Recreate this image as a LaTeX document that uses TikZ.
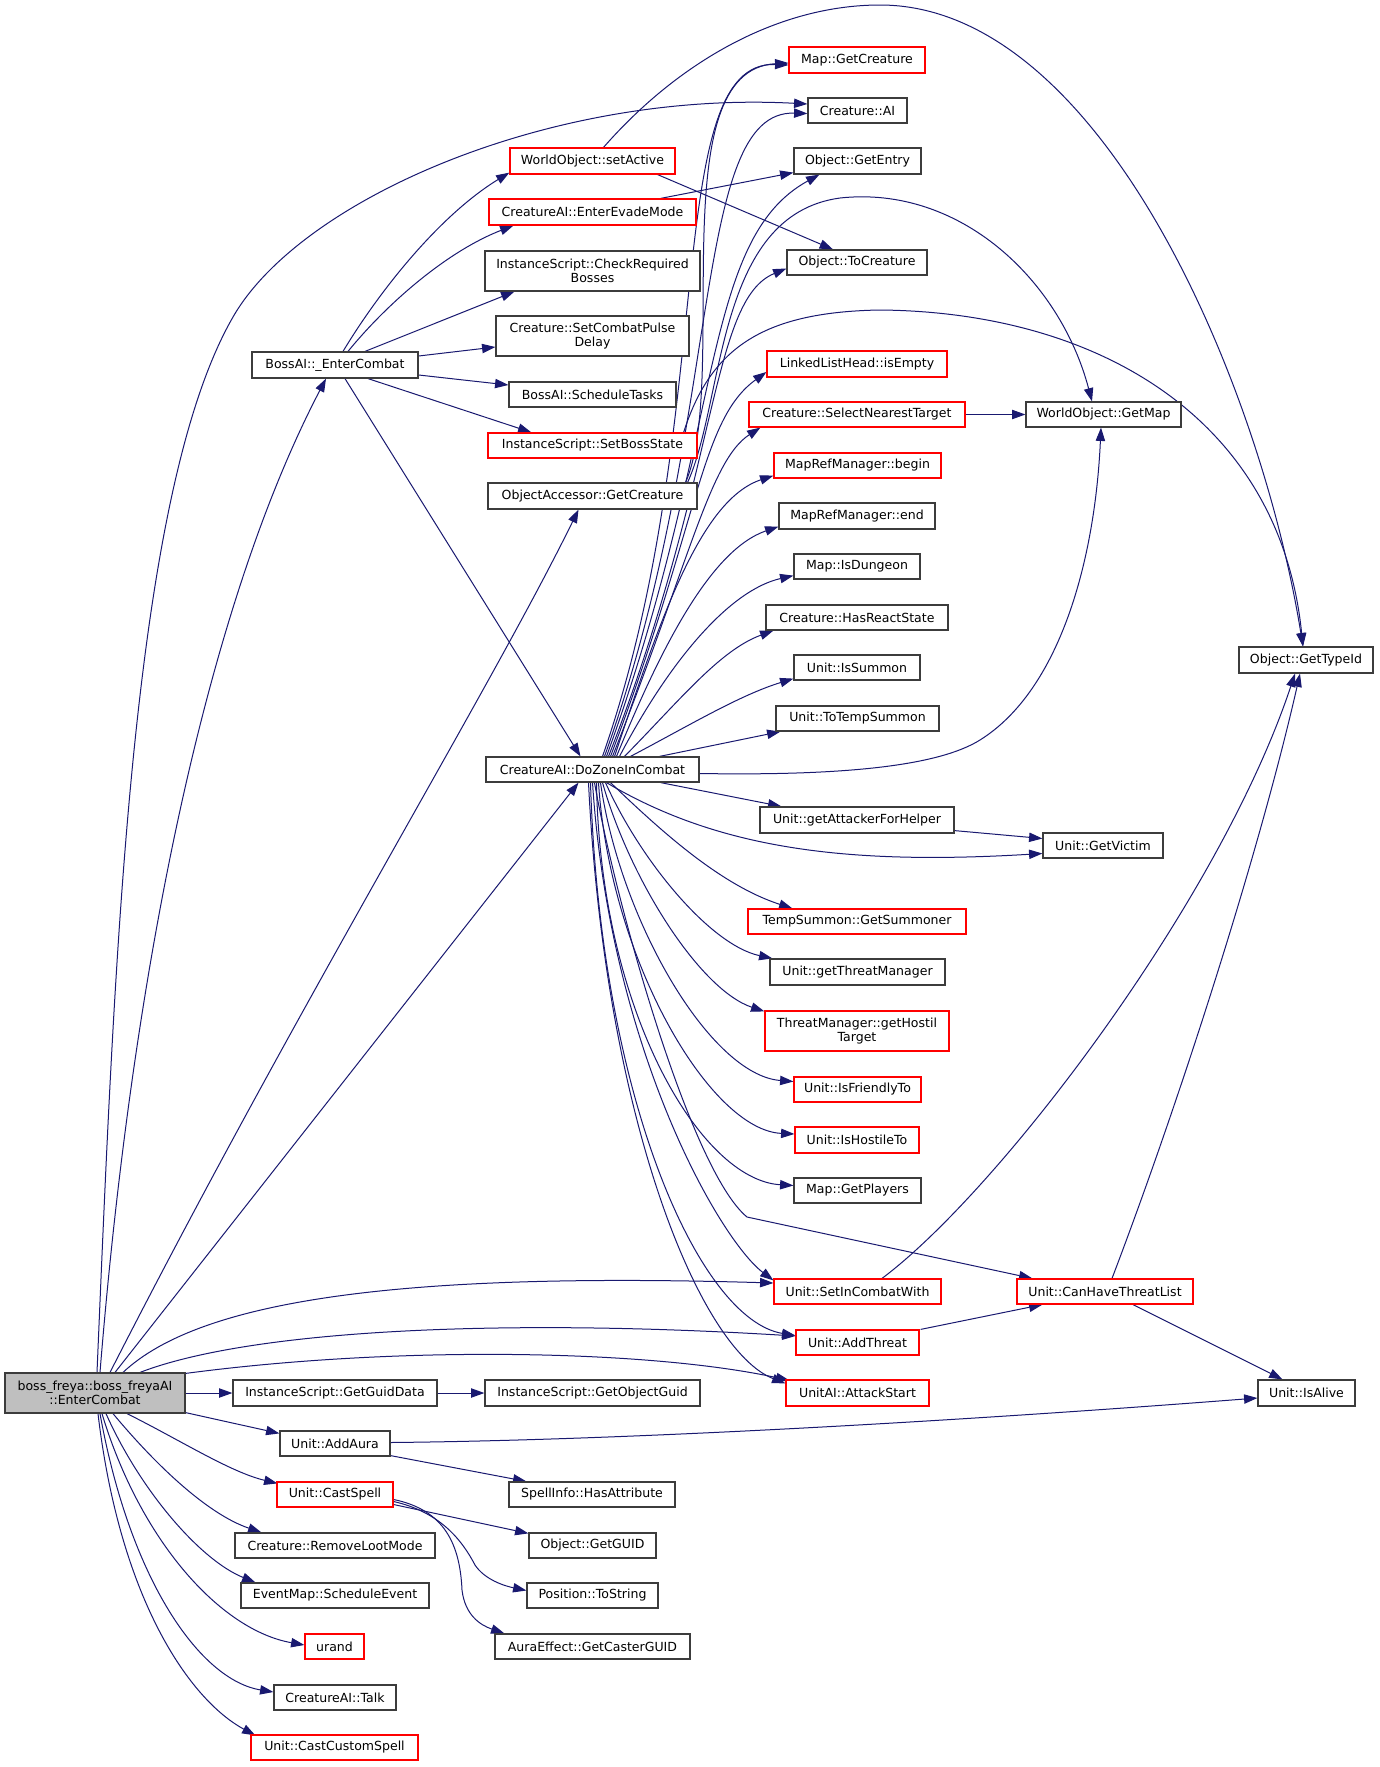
\documentclass[tikz,border=0pt]{standalone}
\usepackage{fontspec}
\newfontfamily\dejavu{DejaVu Sans}
\usetikzlibrary{arrows.meta,calc}
\definecolor{edgeblue}{RGB}{25,25,112}
\definecolor{boxgray}{RGB}{191,191,191}
\definecolor{bordergray}{RGB}{60,60,60}
\definecolor{boxred}{RGB}{255,0,0}
\pgfdeclarelayer{bg}
\pgfsetlayers{bg,main}
\begin{document}
\begin{tikzpicture}[x=0.75pt,y=-0.75pt,
  fn/.style={draw=bordergray, line width=0.9pt, fill=white, inner sep=0pt, align=center,
    font=\dejavu\fontsize{9.4}{10.9}\selectfont},
  rd/.style={fn, draw=boxred},
  sz/.style 2 args={minimum width=#1*0.75pt, minimum height=#2*0.75pt},
  cl/.style={draw=edgeblue, line width=0.75pt, -{Triangle[length=10pt,width=7pt]}, fill=none},
]
\useasboundingbox (0,0) rectangle (1379,1767);
% column 0/1
\node[fn, fill=boxgray, sz={180}{40}] (root) at (95,1393) {boss\_freya::boss\_freyaAI\\::EnterCombat};
\node[fn, sz={166}{26}] (bec) at (335,365) {BossAI::\_EnterCombat};
\node[fn, sz={204}{26}] (igd) at (335,1393) {InstanceScript::GetGuidData};
\node[fn, sz={110}{25}] (uaa) at (335,1443.5) {Unit::AddAura};
\node[rd, sz={116}{25}] (ucs) at (335,1494.5) {Unit::CastSpell};
\node[fn, sz={200}{25}] (crl) at (335,1545.5) {Creature::RemoveLootMode};
\node[fn, sz={188}{25}] (ese) at (335,1595.5) {EventMap::ScheduleEvent};
\node[rd, sz={59}{25}] (urd) at (334.5,1646.5) {urand};
\node[fn, sz={122}{25}] (tlk) at (335,1697.5) {CreatureAI::Talk};
\node[rd, sz={167}{25}] (ccs) at (334.5,1747.5) {Unit::CastCustomSpell};
% column 2
\node[rd, sz={165}{26}] (wsa) at (592.5,161) {WorldObject::setActive};
\node[rd, sz={207}{26}] (eem) at (592.5,212) {CreatureAI::EnterEvadeMode};
\node[fn, sz={215}{40}] (icr) at (592.5,271) {InstanceScript::CheckRequired\\Bosses};
\node[fn, sz={193}{40}] (scp) at (592.5,336) {Creature::SetCombatPulse\\Delay};
\node[fn, sz={167}{25}] (bst) at (592.5,394.5) {BossAI::ScheduleTasks};
\node[rd, sz={209}{25}] (sbs) at (592.5,445.5) {InstanceScript::SetBossState};
\node[fn, sz={209}{26}] (oag) at (592.5,496) {ObjectAccessor::GetCreature};
\node[fn, sz={213}{25}] (dzc) at (592.5,769.5) {CreatureAI::DoZoneInCombat};
\node[fn, sz={215}{26}] (igo) at (592.5,1393) {InstanceScript::GetObjectGuid};
\node[fn, sz={166}{25}] (sha) at (592,1494.5) {SpellInfo::HasAttribute};
\node[fn, sz={127}{25}] (ogg) at (592.5,1545.5) {Object::GetGUID};
\node[fn, sz={131}{25}] (pts) at (592.5,1595.5) {Position::ToString};
\node[fn, sz={195}{25}] (aeg) at (592.5,1646.5) {AuraEffect::GetCasterGUID};
% column 3
\node[rd, sz={136}{26}] (mgc) at (857,60) {Map::GetCreature};
\node[fn, sz={99}{25}] (cai) at (857.5,110.5) {Creature::AI};
\node[fn, sz={127}{26}] (oge) at (857.5,161) {Object::GetEntry};
\node[fn, sz={140}{25}] (otc) at (857,262.5) {Object::ToCreature};
\node[rd, sz={180}{26}] (lle) at (857,364) {LinkedListHead::isEmpty};
\node[rd, sz={216}{25}] (csn) at (857,414.5) {Creature::SelectNearestTarget};
\node[rd, sz={167}{25}] (mrb) at (857.5,465.5) {MapRefManager::begin};
\node[fn, sz={156}{26}] (mre) at (857,516) {MapRefManager::end};
\node[fn, sz={126}{25}] (mid) at (857,566.5) {Map::IsDungeon};
\node[fn, sz={182}{25}] (hrs) at (857,617.5) {Creature::HasReactState};
\node[fn, sz={126}{25}] (uis) at (857,667.5) {Unit::IsSummon};
\node[fn, sz={163}{25}] (tts) at (857.5,718.5) {Unit::ToTempSummon};
\node[fn, sz={194}{26}] (gah) at (857,820) {Unit::getAttackerForHelper};
\node[rd, sz={218}{25}] (tgs) at (857,921.5) {TempSummon::GetSummoner};
\node[fn, sz={175}{26}] (gtm) at (857.5,972) {Unit::getThreatManager};
\node[rd, sz={184}{40}] (ght) at (857,1031) {ThreatManager::getHostil\\Target};
\node[rd, sz={127}{25}] (ift) at (857.5,1089.5) {Unit::IsFriendlyTo};
\node[rd, sz={124}{26}] (iht) at (857,1140) {Unit::IsHostileTo};
\node[fn, sz={127}{25}] (gpl) at (857.5,1190.5) {Map::GetPlayers};
\node[rd, sz={167}{25}] (sic) at (857.5,1291.5) {Unit::SetInCombatWith};
\node[rd, sz={123}{25}] (uat) at (857.5,1342.5) {Unit::AddThreat};
\node[rd, sz={143}{26}] (uas) at (857.5,1393) {UnitAI::AttackStart};
% column 4/5
\node[fn, sz={155}{25}] (wgm) at (1103.5,414.5) {WorldObject::GetMap};
\node[fn, sz={120}{25}] (ugv) at (1103,845.5) {Unit::GetVictim};
\node[rd, sz={176}{25}] (cht) at (1105,1291.5) {Unit::CanHaveThreatList};
\node[fn, sz={134}{26}] (gti) at (1306,660) {Object::GetTypeId};
\node[fn, sz={97}{26}] (ial) at (1306.5,1393) {Unit::IsAlive};

\begin{pgfonlayer}{bg}
\fill[white] (0,0) rectangle (1379,1767);
% root
\draw[cl] ($(root.north)+(5,0)$) .. controls (130,1000) and (200,620) .. ($(bec.south)+(-9,0)$);
\draw[cl] ($(root.north)+(2,0)$) .. controls (115,950) and (132,492) .. (233,317) .. controls (300,200) and (550,90) .. ($(cai.west)+(0,-6.5)$);
\draw[cl] ($(root.north)+(15,0)$) .. controls (300,1000) and (490,690) .. ($(oag.south)+(-14,0)$);
\draw[cl] ($(root.north)+(20,0)$) -- ($(dzc.south)+(-14,0)$);
\draw[cl] ($(root.north)+(28,0)$) .. controls (200,1300) and (400,1272) .. ($(sic.west)+(0,-8.5)$);
\draw[cl] ($(root.north)+(45,0)$) .. controls (250,1330) and (500,1318) .. ($(uat.west)+(0,-6.5)$);
\draw[cl] ($(root.north east)+(0,1)$) .. controls (400,1345) and (650,1350) .. ($(uas.north west)+(4,1)$);
\draw[cl] (root.east) -- (igd.west);
\draw[cl] ($(root.south east)+(0,-1)$) -- ($(uaa.north west)+(0,3)$);
\draw[cl] ($(root.south)+(32,0)$) .. controls (180,1440) and (230,1472) .. ($(ucs.north west)+(1,2)$);
\draw[cl] ($(root.south)+(18,0)$) .. controls (160,1470) and (210,1515) .. ($(crl.north west)+(27,0)$);
\draw[cl] ($(root.south)+(11,0)$) .. controls (140,1490) and (200,1560) .. ($(ese.north west)+(15,0)$);
\draw[cl] ($(root.south)+(7,0)$) .. controls (140,1540) and (220,1630) .. ($(urd.west)+(0,-1.5)$);
\draw[cl] ($(root.south)+(5,0)$) .. controls (130,1580) and (200,1680) .. ($(tlk.west)+(0,-5.5)$);
\draw[cl] ($(root.south)+(3,0)$) .. controls (120,1600) and (190,1700) .. ($(ccs.north west)+(5,1)$);
% AddAura, CastSpell, GetGuidData
\draw[cl] ($(uaa.east)+(0,-1)$) .. controls (650,1440) and (1000,1418) .. ($(ial.west)+(0,5)$);
\draw[cl] ($(uaa.south east)+(0,-1)$) -- ($(sha.north west)+(18,0)$);
\draw[cl] ($(ucs.east)+(0,10)$) -- ($(ogg.north west)+(0,1)$);
\draw[cl] ($(ucs.east)+(0,7)$) .. controls (440,1512) and (462,1540) .. (475,1565) .. controls (485,1580) and (505,1586) .. ($(pts.west)+(0,-5)$);
\draw[cl] ($(ucs.east)+(0,5)$) .. controls (445,1510) and (460,1545) .. (462,1590) .. controls (465,1615) and (480,1625) .. ($(aeg.north west)+(10,0)$);
\draw[cl] (igd.east) -- (igo.west);
% BossAI
\draw[cl] ($(bec.north)+(8,0)$) .. controls (380,290) and (440,215) .. ($(wsa.south west)+(0,-2)$);
\draw[cl] ($(bec.north)+(13,0)$) .. controls (390,300) and (450,250) .. ($(eem.south west)+(25,0)$);
\draw[cl] ($(bec.north)+(30,0)$) -- ($(icr.south west)+(30,0)$);
\draw[cl] ($(bec.east)+(0,-9)$) -- ($(scp.west)+(0,11)$);
\draw[cl] ($(bec.east)+(0,10)$) -- ($(bst.west)+(0,-9.5)$);
\draw[cl] ($(bec.south)+(33,0)$) -- ($(sbs.north west)+(44,0)$);
\draw[cl] ($(bec.south)+(10,0)$) -- ($(dzc.north)+(-12,0)$);
% setActive, EvadeMode, SetBossState, ObjectAccessor
\draw[cl] ($(wsa.south east)+(-18,0)$) -- ($(otc.north)+(-24,0)$);
\draw[cl] ($(wsa.north)+(11,0)$) .. controls (680,60) and (780,5) .. (880,5) .. controls (1100,5) and (1260,380) .. ($(gti.north)+(-3,0)$);
\draw[cl] ($(eem.north east)+(-36,0)$) -- ($(oge.south west)+(0,-2)$);
\draw[cl] ($(sbs.north east)+(-14,0)$) .. controls (710,350) and (760,312) .. (880,310) .. controls (1100,312) and (1280,420) .. ($(gti.north)+(-3,0)$);
\draw[cl] ($(oag.north east)+(-12,0)$) .. controls (730,380) and (660,70) .. ($(mgc.west)+(0,3)$);
\draw[cl] ($(oag.north east)+(-10,0)$) .. controls (725,400) and (715,215) .. (840,198) .. controls (960,185) and (1060,280) .. ($(wgm.north)+(-11.5,0)$);
% DoZoneInCombat upward bundle
\draw[cl] ($(dzc.north)+(10,0)$) .. controls (720,420) and (660,60) .. ($(mgc.west)+(0,5)$);
\draw[cl] ($(dzc.north)+(12,0)$) .. controls (725,420) and (690,110) .. ($(cai.west)+(0,3)$);
\draw[cl] ($(dzc.north)+(14,0)$) .. controls (725,430) and (700,240) .. ($(oge.south west)+(26,0)$);
\draw[cl] ($(dzc.north)+(16,0)$) .. controls (720,470) and (710,300) .. ($(otc.west)+(0,6)$);
\draw[cl] ($(dzc.north)+(18,0)$) .. controls (700,520) and (700,420) .. ($(lle.west)+(0,8)$);
\draw[cl] ($(dzc.north)+(20,0)$) .. controls (690,560) and (710,460) .. ($(csn.south west)+(12,0)$);
\draw[cl] ($(dzc.north)+(22,0)$) .. controls (660,620) and (700,500) .. ($(mrb.south west)+(0,-3)$);
\draw[cl] ($(dzc.north)+(24,0)$) .. controls (660,650) and (710,550) .. ($(mre.south west)+(0,-3)$);
\draw[cl] ($(dzc.north)+(27,0)$) .. controls (670,660) and (730,590) .. ($(mid.south west)+(0,-4)$);
\draw[cl] ($(dzc.north)+(32,0)$) .. controls (680,700) and (720,650) .. ($(hrs.south west)+(8,0)$);
\draw[cl] ($(dzc.north)+(38,0)$) .. controls (690,725) and (740,695) .. ($(uis.south west)+(0,-2)$);
\draw[cl] ($(dzc.north)+(67,0)$) -- ($(tts.south west)+(5,0)$);
% DoZoneInCombat right and downward
\draw[cl] ($(dzc.east)+(0,4)$) .. controls (850,776) and (940,765) .. (980,740) .. controls (1060,690) and (1095,560) .. ($(wgm.south)+(-2.5,0)$);
\draw[cl] ($(dzc.south east)+(-39,0)$) -- ($(gah.north west)+(22,0)$);
\draw[cl] ($(dzc.south)+(14,0)$) .. controls (720,850) and (850,865) .. ($(ugv.west)+(0,8)$);
\draw[cl] ($(dzc.south)+(18,0)$) .. controls (660,830) and (720,885) .. ($(tgs.north west)+(45,0)$);
\draw[cl] ($(dzc.south)+(13,0)$) .. controls (640,860) and (710,945) .. ($(gtm.north west)+(3,0)$);
\draw[cl] ($(dzc.south)+(10,0)$) .. controls (630,880) and (700,990) .. ($(ght.north west)+(0,1)$);
\draw[cl] ($(dzc.south)+(8,0)$) .. controls (620,920) and (710,1075) .. ($(ift.west)+(0,-8)$);
\draw[cl] ($(dzc.south)+(6,0)$) .. controls (610,960) and (710,1130) .. ($(iht.west)+(0,-6)$);
\draw[cl] ($(dzc.south)+(4,0)$) .. controls (600,1010) and (700,1180) .. ($(gpl.west)+(0,-5)$);
\draw[cl] ($(dzc.south)+(2,0)$) .. controls (615,900) and (690,1170) .. (747,1217) -- ($(cht.north west)+(16,0)$);
\draw[cl] ($(dzc.south)+(0,0)$) .. controls (610,1050) and (720,1240) .. ($(sic.north west)+(0,2)$);
\draw[cl] ($(dzc.south)+(-2,0)$) .. controls (600,1100) and (700,1320) .. ($(uat.west)+(0,-7)$);
\draw[cl] ($(dzc.south)+(-4,0)$) .. controls (605,1120) and (700,1350) .. ($(uas.north west)+(0,4)$);
% others
\draw[cl] (csn.east) -- (wgm.west);
\draw[cl] ($(gah.south east)+(0,-3)$) -- ($(ugv.west)+(0,-7)$);
\draw[cl] ($(sic.north)+(24.5,0)$) .. controls (1000,1190) and (1220,900) .. ($(gti.south)+(-11,0)$);
\draw[cl] ($(cht.north)+(7,0)$) .. controls (1180,1100) and (1260,850) .. ($(gti.south)+(-6,0)$);
\draw[cl] ($(uat.north east)+(1,0)$) -- ($(cht.south west)+(26,0)$);
\draw[cl] ($(cht.south)+(28,0)$) -- ($(ial.north)+(-24,0)$);
\end{pgfonlayer}
\end{tikzpicture}
\end{document}
